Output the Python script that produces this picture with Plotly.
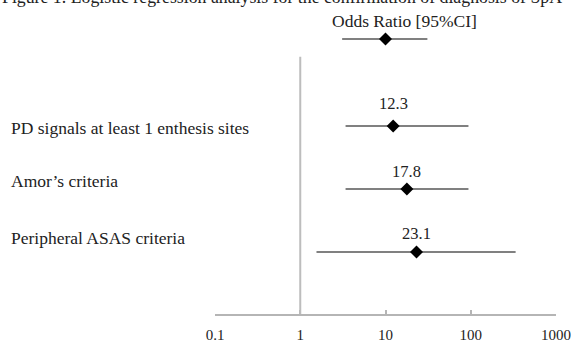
import math
import plotly.graph_objects as go

# Logistic regression results: odds ratio with 95% confidence interval
labels = ["PD signals at least 1 enthesis sites", "Amor\u2019s criteria", "Peripheral ASAS criteria"]
odds_ratio = [12.3, 17.8, 23.1]
ci_low = [3.4, 3.4, 1.55]
ci_high = [94, 94, 336]
rows = [1, 2, 3]

# key sample drawn above the plot
key_or = [10]
key_low = [3.1]
key_high = [31]

tick_vals = [0.1, 1, 10, 100, 1000]
tick_text = ["0.1", "1", "10", "100", "1000"]

W, H = 571, 342
FONT = "Liberation Serif"
TEXT = "#222222"
CI_COLOR = "#808080"

fig = go.Figure()

# confidence interval whiskers
for r, lo, hi in zip(rows, ci_low, ci_high):
    fig.add_trace(go.Scatter(x=[lo, hi], y=[r, r], mode="lines",
                             line=dict(color=CI_COLOR, width=2), hoverinfo="skip"))

# point estimates
fig.add_trace(go.Scatter(x=odds_ratio, y=rows, mode="markers",
                         marker=dict(symbol="diamond", size=10, color="black")))

# key sample
key_y = -0.38
fig.add_trace(go.Scatter(x=[key_low[0], key_high[0]], y=[key_y, key_y], mode="lines",
                         line=dict(color=CI_COLOR, width=2), hoverinfo="skip"))
fig.add_trace(go.Scatter(x=key_or, y=[key_y], mode="markers",
                         marker=dict(symbol="diamond", size=10, color="black")))

annotations = []
# value labels above each estimate (annotation x is in log10 units on a log axis)
value_shift = [23, 18, 19]
for r, v, s in zip(rows, odds_ratio, value_shift):
    annotations.append(dict(x=math.log10(v), y=r, xref="x", yref="y", text=f"{v}",
                            showarrow=False, yshift=s, xanchor="center",
                            font=dict(family=FONT, size=16.5, color=TEXT)))

# row labels on the left
label_shift = [-2, 8, 14]
for r, t, s in zip(rows, labels, label_shift):
    annotations.append(dict(x=9 / W, y=r, xref="paper", yref="y", text=t, showarrow=False,
                            xanchor="left", yshift=s,
                            font=dict(family=FONT, size=17.5, color=TEXT)))

# key caption
annotations.append(dict(x=404 / W, y=-0.67, xref="paper", yref="y", xanchor="center",
                        text="Odds Ratio [95%CI]", showarrow=False,
                        font=dict(family=FONT, size=17.5, color=TEXT)))

# figure caption at the very top
annotations.append(dict(x=0, y=1, xref="paper", yref="paper", xanchor="left", yanchor="middle",
                        yshift=3,
                        text="Figure 1. Logistic regression analysis for the confirmation of diagnosis of SpA",
                        showarrow=False, font=dict(family=FONT, size=17.8, color=TEXT)))

fig.update_layout(
    width=W, height=H,
    margin=dict(l=0, r=0, t=0, b=28, autoexpand=False),
    paper_bgcolor="white", plot_bgcolor="white",
    showlegend=False,
    annotations=annotations,
    shapes=[dict(type="line", xref="x", yref="y", x0=1, x1=1, y0=-0.1, y1=3.984,
                 line=dict(color="#bdbdbd", width=2))],
    xaxis=dict(type="log", range=[-1, 3], domain=[215 / W, 556 / W], automargin=False,
               tickvals=tick_vals, ticktext=tick_text, ticklabelstandoff=6,
               showline=True, linecolor="#b5b5b5", linewidth=1.5,
               ticks="inside", ticklen=4, tickcolor="#b5b5b5", tickwidth=1.5,
               showgrid=False, zeroline=False,
               tickfont=dict(family=FONT, size=15, color=TEXT)),
    yaxis=dict(range=[3.984, -1.0], showticklabels=False, showgrid=False,
               zeroline=False, showline=False, automargin=False),
)

fig.write_html("out.html")
